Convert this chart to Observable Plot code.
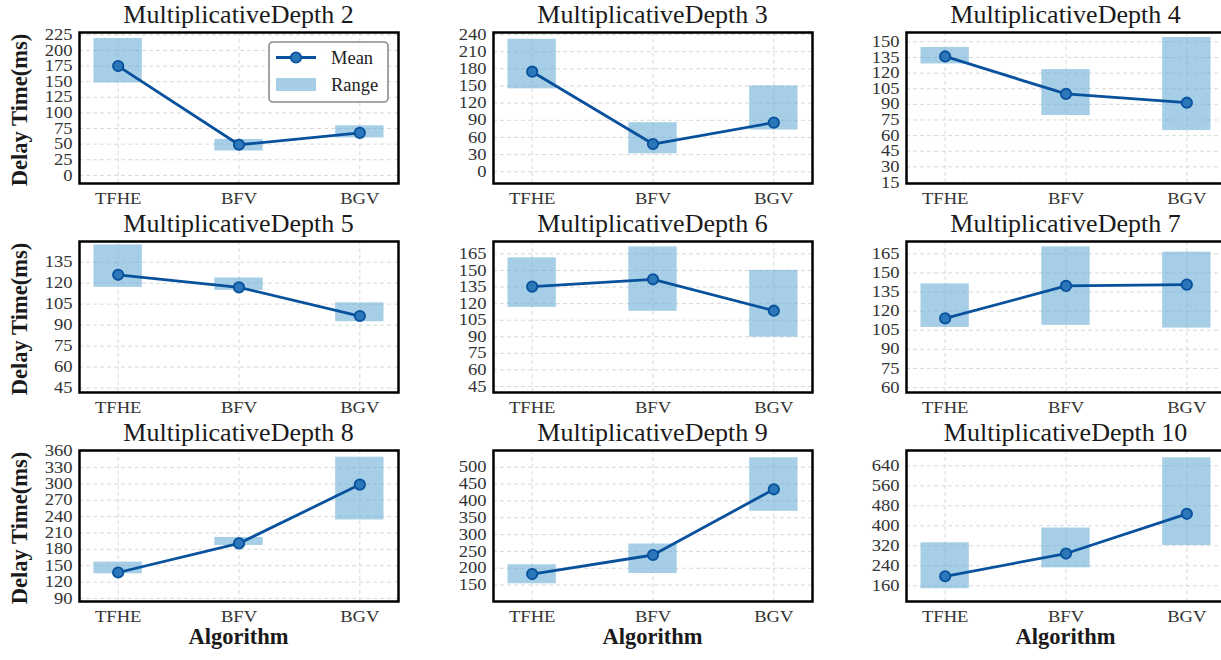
<!DOCTYPE html>
<html>
<head>
<meta charset="utf-8">
<script src="https://cdn.jsdelivr.net/npm/d3@7"></script>
<script src="https://cdn.jsdelivr.net/npm/@observablehq/plot@0.6"></script>
<style>
  html, body { margin: 0; padding: 0; background: #fff; overflow: hidden; }
  #fig { position: relative; width: 1221px; height: 660px; overflow: hidden; background: #fff; font-family: "Liberation Serif", "Times New Roman", serif; }
  .panel { position: absolute; }
  .panel svg { max-width: none !important; }
  .title { position: absolute; font-size: 26px; color: #1a1a1a; white-space: nowrap; transform: translateX(-50%); line-height: 1; }
  .ylab { position: absolute; font-size: 22.5px; font-weight: bold; color: #1a1a1a; white-space: nowrap; transform: translate(-50%, -50%) rotate(-90deg); line-height: 1; }
  .xlab { position: absolute; font-size: 22.5px; font-weight: bold; color: #1a1a1a; white-space: nowrap; transform: translateX(-50%); line-height: 1; }
  .legend { position: absolute; }
</style>
</head>
<body>
<div id="fig"></div>
<script>
// ---- data ----
const algorithms = ["TFHE", "BFV", "BGV"];
const depths = [2, 3, 4, 5, 6, 7, 8, 9, 10];
const meanValues = [
  [175, 49, 68],
  [175, 48.5, 86],
  [136, 100, 91.6],
  [126, 117, 96.5],
  [135.4, 142, 113.6],
  [114.3, 139.8, 140.8],
  [137.5, 190.8, 298.7],
  [182.7, 239.3, 434.5],
  [198, 289, 448]
];
const minValues = [
  [148, 39, 60],
  [145, 31.5, 73],
  [128.8, 79.3, 64.8],
  [117, 114.8, 92.4],
  [116.6, 113, 89.7],
  [107.2, 108.8, 106.7],
  [135.1, 187.1, 233.8],
  [153.9, 184.5, 369],
  [148, 231.6, 321]
];
const maxValues = [
  [219, 57.5, 79.4],
  [231.7, 85.8, 150],
  [144.6, 123.4, 154.2],
  [147.3, 123.7, 105.9],
  [161.4, 171.3, 150.1],
  [141.4, 170.5, 166.3],
  [156.6, 201.8, 348.9],
  [210.4, 272, 528],
  [332, 391, 672]
];
const yTicks = [
  [0, 25, 50, 75, 100, 125, 150, 175, 200, 225],
  [0, 30, 60, 90, 120, 150, 180, 210, 240],
  [15, 30, 45, 60, 75, 90, 105, 120, 135, 150],
  [45, 60, 75, 90, 105, 120, 135],
  [45, 60, 75, 90, 105, 120, 135, 150, 165],
  [60, 75, 90, 105, 120, 135, 150, 165],
  [90, 120, 150, 180, 210, 240, 270, 300, 330, 360],
  [150, 200, 250, 300, 350, 400, 450, 500],
  [160, 240, 320, 400, 480, 560, 640]
];
const yLimits = [
  [-13, 228.7],
  [-20.5, 243.5],
  [14, 159],
  [41.8, 149.8],
  [39.6, 176.2],
  [56.1, 174.7],
  [84.3, 361.2],
  [101.2, 549.7],
  [97, 701.4]
];
const titlePrefix = "MultiplicativeDepth ";
const yLabel = "Delay Time(ms)";
const xLabel = "Algorithm";

// ---- layout ----
const colLeft = [79, 493, 906];
const rowTop = [32, 241, 450];
const frameW = 319, frameH = 151;
const mL = 50, mR = 3, mT = 3, mB = 34;

const barColor = "#6baed6";
const lineColor = "#08519c";
const dotFill = "#2b77ba";
const gridColor = "#d4d4d4";

const fig = document.getElementById("fig");

depths.forEach((depth, k) => {
  const col = k % 3, row = Math.floor(k / 3);
  const data = algorithms.map((a, i) => ({
    i, algo: a,
    mean: meanValues[k][i], lo: minValues[k][i], hi: maxValues[k][i]
  }));
  const W = mL + frameW + mR, H = mT + frameH + mB;
  const chart = Plot.plot({
    width: W,
    height: H,
    marginLeft: mL, marginRight: mR, marginTop: mT, marginBottom: mB,
    style: { fontFamily: "'Liberation Serif', 'Times New Roman', serif", fontSize: "16px", color: "#333", background: "transparent", overflow: "visible", maxWidth: "none" },
    x: { type: "linear", domain: [-0.32, 2.32], ticks: [0, 1, 2], tickFormat: (d) => algorithms[d], tickSize: 0, tickPadding: 9, label: null },
    y: { domain: yLimits[k], ticks: yTicks[k], tickSize: 0, tickPadding: 7, label: null },
    marks: [
      Plot.ruleY(yTicks[k], { stroke: gridColor, strokeWidth: 0.9, strokeDasharray: "4,3" }),
      Plot.ruleX([0, 1, 2], { stroke: gridColor, strokeWidth: 0.9, strokeDasharray: "4,3" }),
      Plot.rect(data, { x1: (d) => d.i - 0.2, x2: (d) => d.i + 0.2, y1: "lo", y2: "hi", fill: barColor, fillOpacity: 0.6 }),
      Plot.line(data, { x: "i", y: "mean", stroke: lineColor, strokeWidth: 2.8 }),
      Plot.dot(data, { x: "i", y: "mean", r: 5.2, fill: dotFill, stroke: lineColor, strokeWidth: 1.8 }),
      Plot.frame({ stroke: "#000", strokeWidth: 2.5 })
    ]
  });
  chart.style.maxWidth = "none";
  chart.setAttribute("width", W);
  chart.setAttribute("height", H);
  const wrap = document.createElement("div");
  wrap.className = "panel";
  wrap.style.left = (colLeft[col] - mL) + "px";
  wrap.style.top = (rowTop[row] - mT) + "px";
  wrap.style.width = W + "px";
  wrap.style.height = H + "px";
  wrap.appendChild(chart);
  fig.appendChild(wrap);

  // horizontally stretched tick labels (as in the reference)
  chart.querySelectorAll('g[aria-label="y-axis tick label"] text, g[aria-label="x-axis tick label"] text').forEach((t) => {
    const w = t.getComputedTextLength();
    t.setAttribute("textLength", (w * 1.16).toFixed(2));
    t.setAttribute("lengthAdjust", "spacingAndGlyphs");
    t.setAttribute("fill", "#333");
  });

  const title = document.createElement("div");
  title.className = "title";
  title.textContent = titlePrefix + depth;
  title.style.left = (colLeft[col] + frameW / 2) + "px";
  title.style.top = (rowTop[row] - 30) + "px";
  fig.appendChild(title);

  if (col === 0) {
    const yl = document.createElement("div");
    yl.className = "ylab";
    yl.textContent = yLabel;
    yl.style.left = "20px";
    yl.style.top = (rowTop[row] + frameH / 2 + 2) + "px";
    fig.appendChild(yl);
  }
  if (row === 2) {
    const xl = document.createElement("div");
    xl.className = "xlab";
    xl.textContent = xLabel;
    xl.style.left = (colLeft[col] + frameW / 2) + "px";
    xl.style.top = "625.5px";
    fig.appendChild(xl);
  }
});

// ---- legend (in first panel) ----
const ns = "http://www.w3.org/2000/svg";
const leg = document.createElementNS(ns, "svg");
leg.setAttribute("width", 124);
leg.setAttribute("height", 66);
leg.setAttribute("class", "legend");
leg.style.left = "267px";
leg.style.top = "40px";
leg.innerHTML = `
  <rect x="2" y="2" width="119" height="60" rx="4" ry="4" fill="#fff" fill-opacity="0.85" stroke="#8c8c8c" stroke-width="1.6"/>
  <line x1="9" x2="49" y1="17.5" y2="17.5" stroke="${lineColor}" stroke-width="2.8"/>
  <circle cx="29" cy="17.5" r="5.2" fill="${dotFill}" stroke="${lineColor}" stroke-width="1.8"/>
  <rect x="9" y="38" width="40" height="13" fill="${barColor}" fill-opacity="0.6"/>
  <text x="64" y="23.5" font-family="'Liberation Serif', serif" font-size="18.5" fill="#222">Mean</text>
  <text x="64" y="50.5" font-family="'Liberation Serif', serif" font-size="18.5" fill="#222">Range</text>
`;
fig.appendChild(leg);
</script>
</body>
</html>
